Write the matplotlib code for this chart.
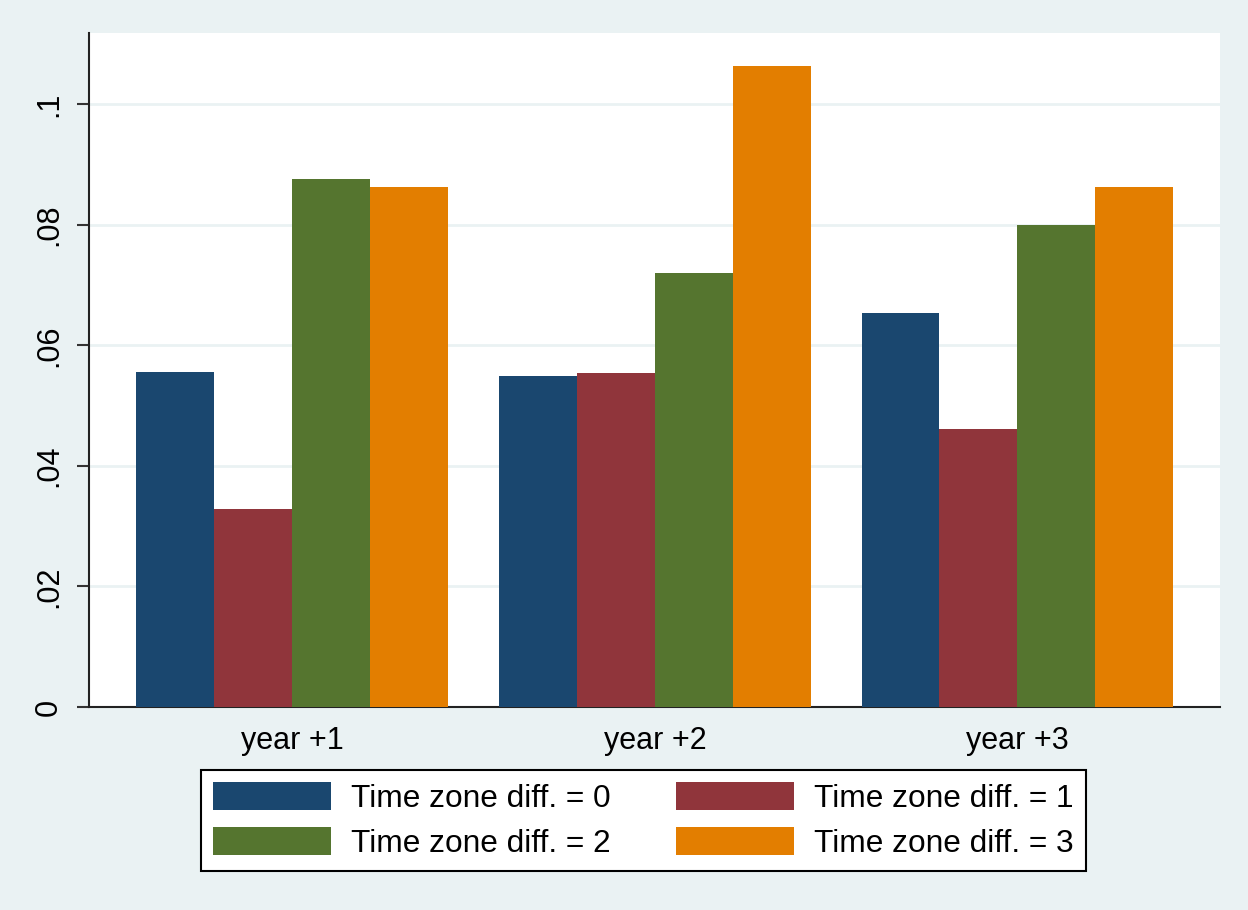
import numpy as np
import matplotlib.pyplot as plt

plt.rcParams['font.family'] = ['Liberation Sans', 'DejaVu Sans']

groups = ['year +1', 'year +2', 'year +3']
labels = ['Time zone diff. = 0', 'Time zone diff. = 1',
          'Time zone diff. = 2', 'Time zone diff. = 3']
tz0 = [0.0556, 0.0549, 0.0653]
tz1 = [0.0328, 0.0554, 0.0461]
tz2 = [0.0876, 0.0720, 0.0799]
tz3 = [0.0862, 0.1063, 0.0862]
series = [tz0, tz1, tz2, tz3]
colors = ['#1A476F', '#90353B', '#55752F', '#E37E00']
yticks = [0, 0.02, 0.04, 0.06, 0.08, 0.1]
yticklabels = ['0', '.02', '.04', '.06', '.08', '.1']

bg = '#EAF2F3'
fig = plt.figure(figsize=(12.48, 9.10), dpi=100, facecolor=bg)
ax = fig.add_axes([0.0713, 0.2231, 0.9063, 0.7406])
ax.set_facecolor('white')

x = np.arange(len(groups))
w = 0.215
for i, (vals, c, lab) in enumerate(zip(series, colors, labels)):
    ax.bar(x + (i - 1.5) * w, vals, width=w, color=c, label=lab, zorder=3)

ax.set_xlim(-0.561, 2.559)
ax.set_ylim(0, 0.1118)
ax.set_yticks(yticks)
ax.set_yticklabels(yticklabels, rotation=90, va='center', fontsize=22)
ax.set_xticks(x)
ax.set_xticklabels(groups, fontsize=22)
ax.tick_params(axis='x', length=0, pad=14)
ax.tick_params(axis='y', length=9, width=1.5, color='#333333', pad=9)
ax.yaxis.grid(True, color=bg, linewidth=2, zorder=0)
ax.set_axisbelow(True)

for s in ['top', 'right']:
    ax.spines[s].set_visible(False)
for s in ['left', 'bottom']:
    ax.spines[s].set_linewidth(1.5)
    ax.spines[s].set_color('#222222')

handles, labs = ax.get_legend_handles_labels()
# reorder so rows read 0,1 / 2,3
order = [0, 2, 1, 3]
leg = fig.legend([handles[k] for k in order], [labs[k] for k in order],
                 loc='center', bbox_to_anchor=(0.5155, 0.0985), ncol=2,
                 fontsize=22.8, frameon=True, fancybox=False, framealpha=1,
                 handlelength=3.73, handleheight=1.0, handletextpad=0.63,
                 columnspacing=2.08, labelspacing=0.42, borderpad=0.38)
leg.get_frame().set_edgecolor('black')
leg.get_frame().set_linewidth(1.5)

fig.savefig('out.png', dpi=100, facecolor=bg)
